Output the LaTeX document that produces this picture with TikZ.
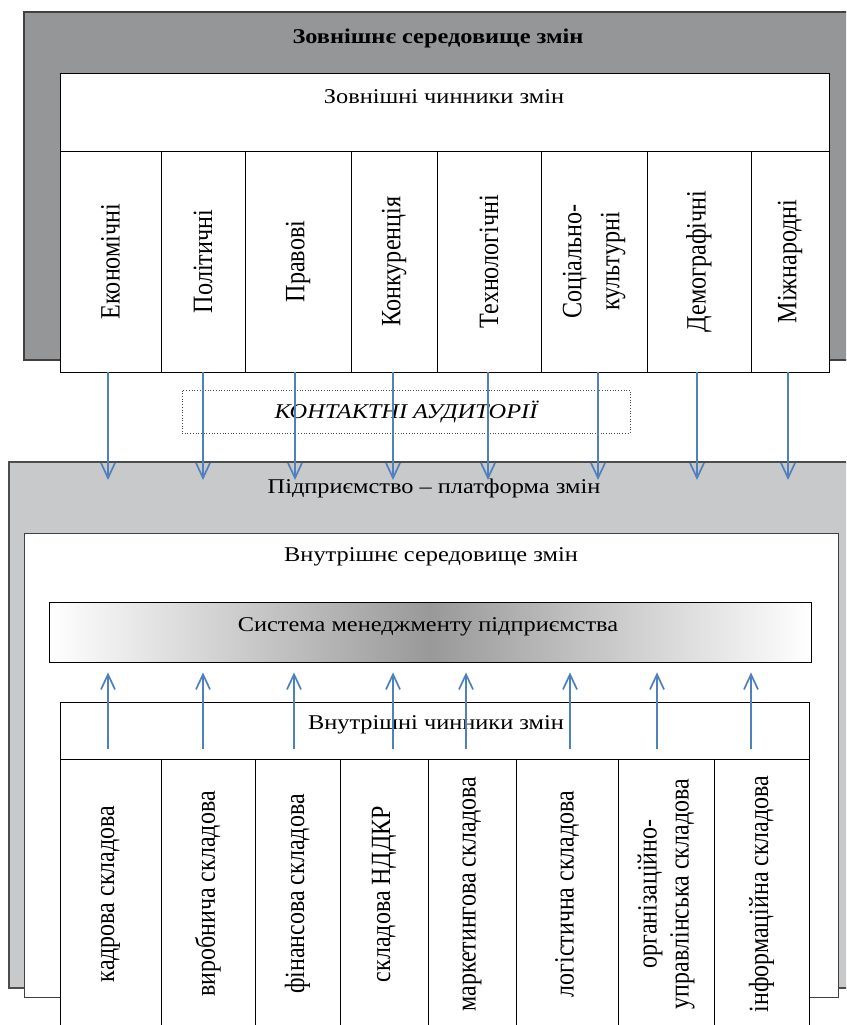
\documentclass[tikz,border=0pt]{standalone}
\usepackage{fontspec}
\setmainfont{Liberation Serif}[FakeStretch=1.16]
\newfontfamily\colfont{Liberation Serif}[FakeStretch=0.862]
\usetikzlibrary{arrows.meta}
\usetikzlibrary{positioning}

\definecolor{envgray}{HTML}{959698}
\definecolor{firmgray}{HTML}{C8C9CB}
\definecolor{flowblue}{HTML}{4F81BD}

\tikzset{
  cell/.style={draw, fill=white, line width=0.8pt, inner sep=0pt},
  htext/.style={font=\fontsize{21}{25}\selectfont, inner sep=0pt},
  vtext/.style={rotate=90, align=center, font=\colfont\fontsize{28}{38}\selectfont, inner sep=0pt},
  vtextsm/.style={rotate=90, align=center, font=\colfont\fontsize{27.8}{32}\selectfont, inner sep=0pt},
  flow/.style={draw=flowblue, line width=1.7pt, -{Straight Barb[length=15pt,width=14pt,line width=1.7pt]}}
}

\begin{document}
\begin{tikzpicture}[x=1pt,y=-1pt]
\useasboundingbox (0,0) rectangle (846,1025);
\clip (0,0) rectangle (846,1025);

% external environment
\draw [fill=envgray, draw=black!75, line width=1.2pt] (24,12) rectangle (870,360);
\node [htext, font=\fontsize{21}{25}\selectfont\bfseries] (envtitle) at (438,38) {Зовнішнє середовище змін};
\draw [cell] (60,73) rectangle (829,151);
\node [htext] (exttitle) at (444,97) {Зовнішні чинники змін};
\foreach \l/\r/\t [count=\i] in {60/161/Економічні, 161/245/Політичні, 245/351/Правові,
    351/437/Конкуренція, 437/541/Технологічні, 541/647/Соціально-\\культурні,
    647/751/Демографічні, 751/829/Міжнародні}
{
  \node [cell, minimum width={\r-\l}, minimum height=221] (ext\i) at ({(\l+\r)/2},261.5) {};
  \node [vtext] (extlab\i) at (ext\i) {\t};
}

% contact audiences
\node [draw=black!70, dotted, line width=0.7pt, minimum width=448, minimum height=43,
  htext, font=\fontsize{21}{25}\selectfont\itshape] (contact) at (406,411.5) {КОНТАКТНІ АУДИТОРІЇ};

% enterprise
\draw [fill=firmgray, draw=black!70, line width=1.2pt] (9,462) rectangle (870,988);
\node [htext] (firm) at (434,488) {Підприємство – платформа змін};
\draw [cell, draw=black!75] (24,533) rectangle (838,997);
\node [htext] (intenv) at (431,557) {Внутрішнє середовище змін};
\node [draw, line width=0.8pt, left color=white, right color=white, middle color=black!40,
  minimum width=762, minimum height=60, htext] (sys) at (430,632) {};
\node [htext] (systitle) at (428,627) {Система менеджменту підприємства};

% internal factors
\draw [cell] (60,702) rectangle (809,759);
\node [htext] (inttitle) at (436,725) {Внутрішні чинники змін};
\foreach \l/\r/\t [count=\i] in {60/161/кадрова складова, 161/255/виробнича складова,
    255/340/фінансова складова, 340/428/складова НДДКР, 428/516/маркетингова складова,
    516/618/логістична складова, 618/714/організаційно-\\управлінська складова,
    714/809/інформаційна складова}
{
  \node [cell, minimum width={\r-\l}, minimum height=280] (int\i) at ({(\l+\r)/2},899) {};
  \node [vtextsm] (intlab\i) at ({(\l+\r)/2},894) {\t};
}

% arrows
\coordinate (dlevel) at (0,480);
\foreach \i/\dx in {1/-2.5,2/0,3/-3,4/-1,5/-1,6/4,7/-2,8/-2}
  \draw [flow] ([xshift=\dx pt]ext\i.south) -- ([xshift=\dx pt]ext\i.south |- dlevel);
\foreach \x [count=\i] in {108,203,294,393,466,570,657,751}
{
  \coordinate (up\i) at (\x,749);
  \draw [flow] (up\i) -- ([yshift=-10pt]up\i |- sys.south);
}
\end{tikzpicture}
\end{document}
